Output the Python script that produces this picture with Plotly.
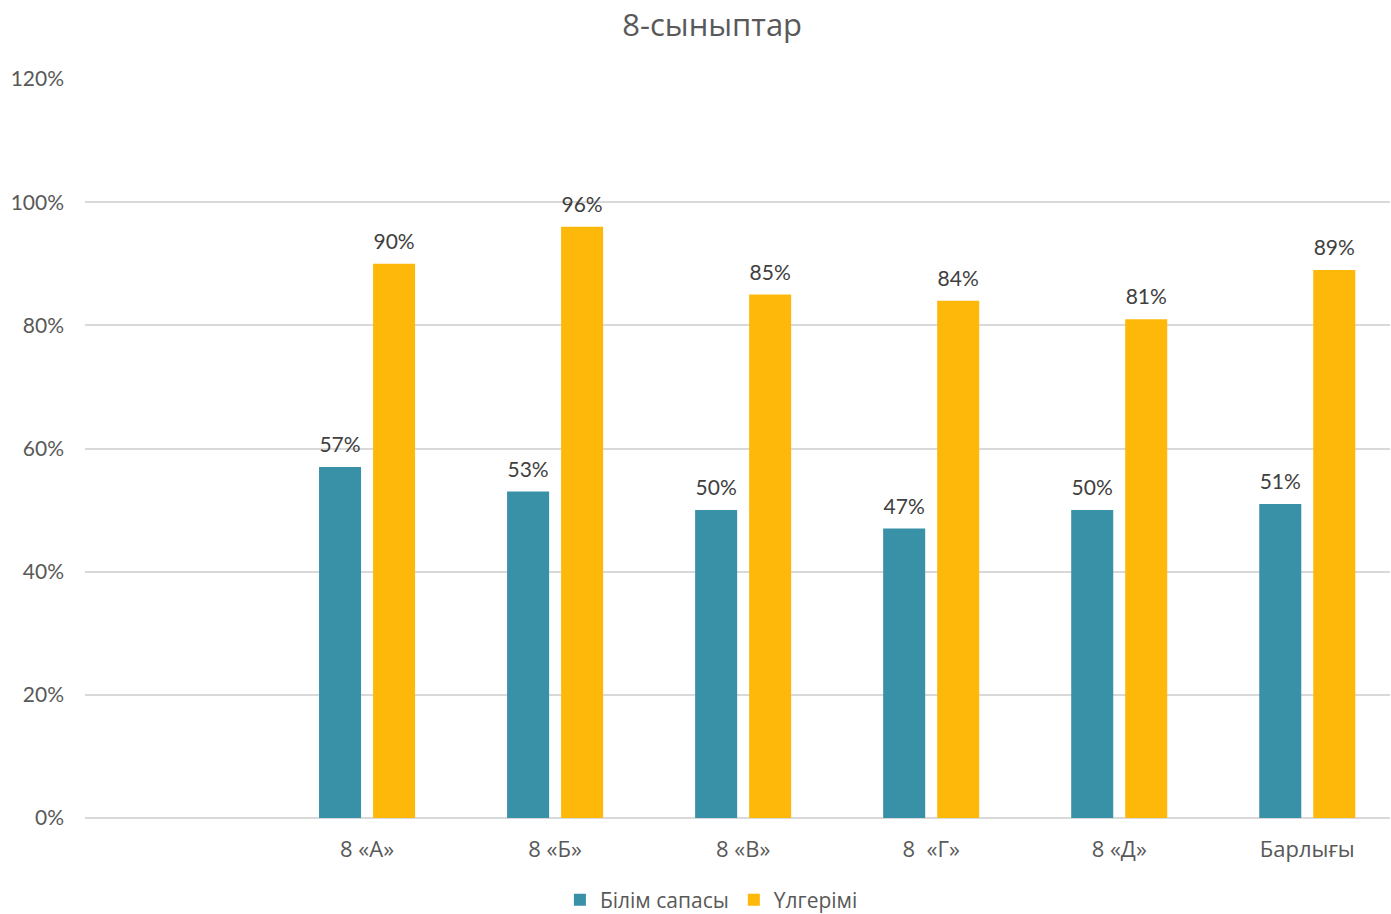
import plotly.graph_objects as go

categories = ["8 «А»", "8 «Б»", "8 «В»", "8  «Г»", "8 «Д»", "Барлығы"]
bilim_sapasy = [57, 53, 50, 47, 50, 51]
ulgerimi = [90, 96, 85, 84, 81, 89]
series_names = ["Білім сапасы", "Үлгерімі"]
y_ticks = [0, 20, 40, 60, 80, 100, 120]

TEAL = "#3891A7"
GOLD = "#FEB80A"
NUM_FONT = "Lato, 'DejaVu Sans', sans-serif"
TXT_FONT = "'Open Sans', 'Noto Sans', sans-serif"

fig = go.Figure()
series = [(series_names[0], bilim_sapasy, TEAL, "a"), (series_names[1], ulgerimi, GOLD, "b")]
for name, vals, col, grp in series:
    fig.add_trace(go.Bar(
        x=categories, y=vals, name=name, offsetgroup=grp,
        marker=dict(color=col, line=dict(width=0)),
    ))
for name, vals, col, grp in series:
    fig.add_trace(go.Scatter(
        x=categories, y=vals, mode="markers+text", offsetgroup=grp,
        marker=dict(size=14, color="rgba(0,0,0,0)"),
        text=[f"{v}%" for v in vals], textposition="top center",
        textfont=dict(family=NUM_FONT, size=21, color="#404040"),
        showlegend=False, hoverinfo="skip", cliponaxis=False,
    ))

fig.update_layout(
    width=1391, height=914,
    paper_bgcolor="white", plot_bgcolor="white",
    margin=dict(l=85, r=1, t=79, b=96, autoexpand=False),
    barmode="group", bargap=0.4255, bargroupgap=0.222,
    scattermode="group", scattergap=0.4255,
    title=dict(text="8-сыныптар", x=0.512, xanchor="center", y=0.9726, yanchor="middle",
               font=dict(family=TXT_FONT, size=31, color="#595959")),
    xaxis=dict(type="category", range=[-1.5, 5.44], showgrid=False, showline=False,
               automargin=False,
               ticks="", tickfont=dict(family=TXT_FONT, size=22, color="#595959"),
               ticklabelstandoff=16),
    yaxis=dict(range=[0, 120], tickvals=y_ticks, ticktext=[f"{t}%" for t in y_ticks],
               automargin=False,
               showgrid=True, gridcolor="#D9D9D9", gridwidth=1.5, zeroline=True,
               zerolinecolor="#D9D9D9", zerolinewidth=1.5, showline=False, ticks="",
               tickfont=dict(family=NUM_FONT, size=21, color="#595959"),
               ticklabelstandoff=20),
    legend=dict(orientation="h", x=0.480, xanchor="center", y=-0.111, yanchor="middle",
                font=dict(family=TXT_FONT, size=21, color="#595959"),
                itemwidth=30, tracegroupgap=0),
    showlegend=True,
)

fig.write_html("out.html", config={"displayModeBar": False},
               post_script="document.body.style.margin='0';document.body.style.overflow='hidden';")
